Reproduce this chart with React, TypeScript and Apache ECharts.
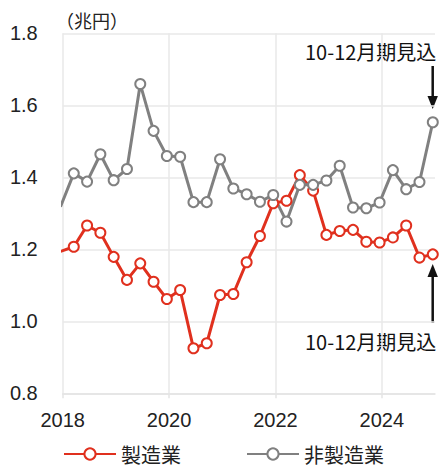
import React, { useEffect, useRef } from "react";
import * as echarts from "echarts";

// Quarter (survey month) of each observation
const quarters = [
  "2017-12",
  "2018-03", "2018-06", "2018-09", "2018-12",
  "2019-03", "2019-06", "2019-09", "2019-12",
  "2020-03", "2020-06", "2020-09", "2020-12",
  "2021-03", "2021-06", "2021-09", "2021-12",
  "2022-03", "2022-06", "2022-09", "2022-12",
  "2023-03", "2023-06", "2023-09", "2023-12",
  "2024-03", "2024-06", "2024-09", "2024-12",
];

// 製造業 (兆円)
const manufacturing = [
  1.194,
  1.207, 1.266, 1.246, 1.179,
  1.115, 1.161, 1.110, 1.062,
  1.087, 0.925, 0.939, 1.073,
  1.076, 1.164, 1.237, 1.328,
  1.335, 1.406, 1.363, 1.240,
  1.251, 1.254, 1.221, 1.219,
  1.233, 1.266, 1.177, 1.186,
];

// 非製造業 (兆円)
const nonManufacturing = [
  1.318,
  1.411, 1.388, 1.464, 1.392,
  1.423, 1.659, 1.529, 1.459,
  1.457, 1.331, 1.331, 1.450,
  1.369, 1.353, 1.332, 1.351,
  1.277, 1.379, 1.379, 1.391,
  1.432, 1.316, 1.314, 1.330,
  1.420, 1.367, 1.387, 1.553,
];

const yearLabels = [2018, 2020, 2022, 2024];
const unitLabel = "（兆円）";
const noteLabel = "10-12月期見込";
const seriesNames = ["製造業", "非製造業"];

const RED = "#e0301e";
const GRAY = "#808080";
const FONT = "'Liberation Sans', 'Noto Sans CJK JP', sans-serif";
const JFONT = "'Noto Sans CJK JP', sans-serif";

// month-centred decimal year
const toYear = (q: string) => {
  const [y, m] = q.split("-").map(Number);
  return y + (m - 0.5) / 12;
};

export default function App() {
  const ref = useRef<HTMLDivElement>(null);

  useEffect(() => {
    if (!ref.current) return;
    const chart = echarts.init(ref.current, null, { renderer: "svg" });
    const xs = quarters.map(toYear);
    const mk = (vals: number[]) => vals.map((v, i) => [xs[i], v]);

    const lineSeries = (name: string, color: string, vals: number[]) => ({
      name,
      type: "line",
      data: mk(vals),
      color,
      symbol: "emptyCircle",
      symbolSize: 10,
      showAllSymbol: true,
      clip: true,
      lineStyle: { width: 3, color },
      itemStyle: { color, borderWidth: 2.5 },
      emphasis: { disabled: true },
    });

    chart.setOption({
      animation: false,
      textStyle: { fontFamily: FONT },
      grid: { left: 62.7, right: 7, top: 33.3, bottom: 74.7, containLabel: false },
      xAxis: {
        type: "value",
        min: 2018,
        max: 2025,
        interval: 1,
        axisLine: { show: true, lineStyle: { color: "#e4e4e4", width: 1.5 } },
        axisTick: {
          show: true,
          customValues: yearLabels,
          length: 5,
          lineStyle: { color: "#e4e4e4", width: 1.5 },
        },
        axisLabel: {
          customValues: yearLabels,
          formatter: (v: number) => String(v),
          fontSize: 20,
          color: "#222",
          margin: 17,
          fontFamily: FONT,
        },
        splitLine: { show: true, lineStyle: { color: "#e8e8e8", width: 1.5 } },
      },
      yAxis: {
        type: "value",
        min: 0.8,
        max: 1.8,
        interval: 0.2,
        axisLine: { show: false },
        axisTick: { show: false },
        axisLabel: {
          formatter: (v: number) => v.toFixed(1),
          fontSize: 20,
          color: "#222",
          margin: 25,
          fontFamily: FONT,
        },
        splitLine: { show: true, lineStyle: { color: "#e8e8e8", width: 1.5 } },
      },
      legend: {
        data: seriesNames,
        left: 63,
        top: 444,
        padding: 0,
        itemWidth: 52,
        itemHeight: 14,
        itemGap: 65,
        textStyle: { fontSize: 20, color: "#222", fontFamily: JFONT },
      },
      series: [
        lineSeries(seriesNames[0], RED, manufacturing),
        lineSeries(seriesNames[1], GRAY, nonManufacturing),
      ],
      graphic: [
        {
          type: "text",
          x: 56,
          y: 20,
          style: { text: unitLabel, fontSize: 18, fill: "#222", fontFamily: JFONT, verticalAlign: "middle" },
        },
        {
          type: "text",
          x: 305,
          y: 51,
          style: { text: noteLabel, fontSize: 20, fill: "#111", fontFamily: JFONT, verticalAlign: "middle" },
        },
        {
          type: "line",
          shape: { x1: 432.7, y1: 66, x2: 432.7, y2: 100 },
          style: { stroke: "#111", lineWidth: 2.5 },
        },
        {
          type: "polygon",
          shape: { points: [[427.5, 96], [437.9, 96], [432.7, 109]] },
          style: { fill: "#111" },
        },
        {
          type: "polygon",
          shape: { points: [[427.5, 277], [437.9, 277], [432.7, 264]] },
          style: { fill: "#111" },
        },
        {
          type: "line",
          shape: { x1: 432.7, y1: 275, x2: 432.7, y2: 323 },
          style: { stroke: "#111", lineWidth: 2.5 },
        },
        {
          type: "text",
          x: 305,
          y: 341,
          style: { text: noteLabel, fontSize: 20, fill: "#111", fontFamily: JFONT, verticalAlign: "middle" },
        },
      ],
    });
    return () => chart.dispose();
  }, []);

  return <div ref={ref} style={{ width: 442, height: 468, position: "absolute", left: 0, top: 0 }} />;
}
